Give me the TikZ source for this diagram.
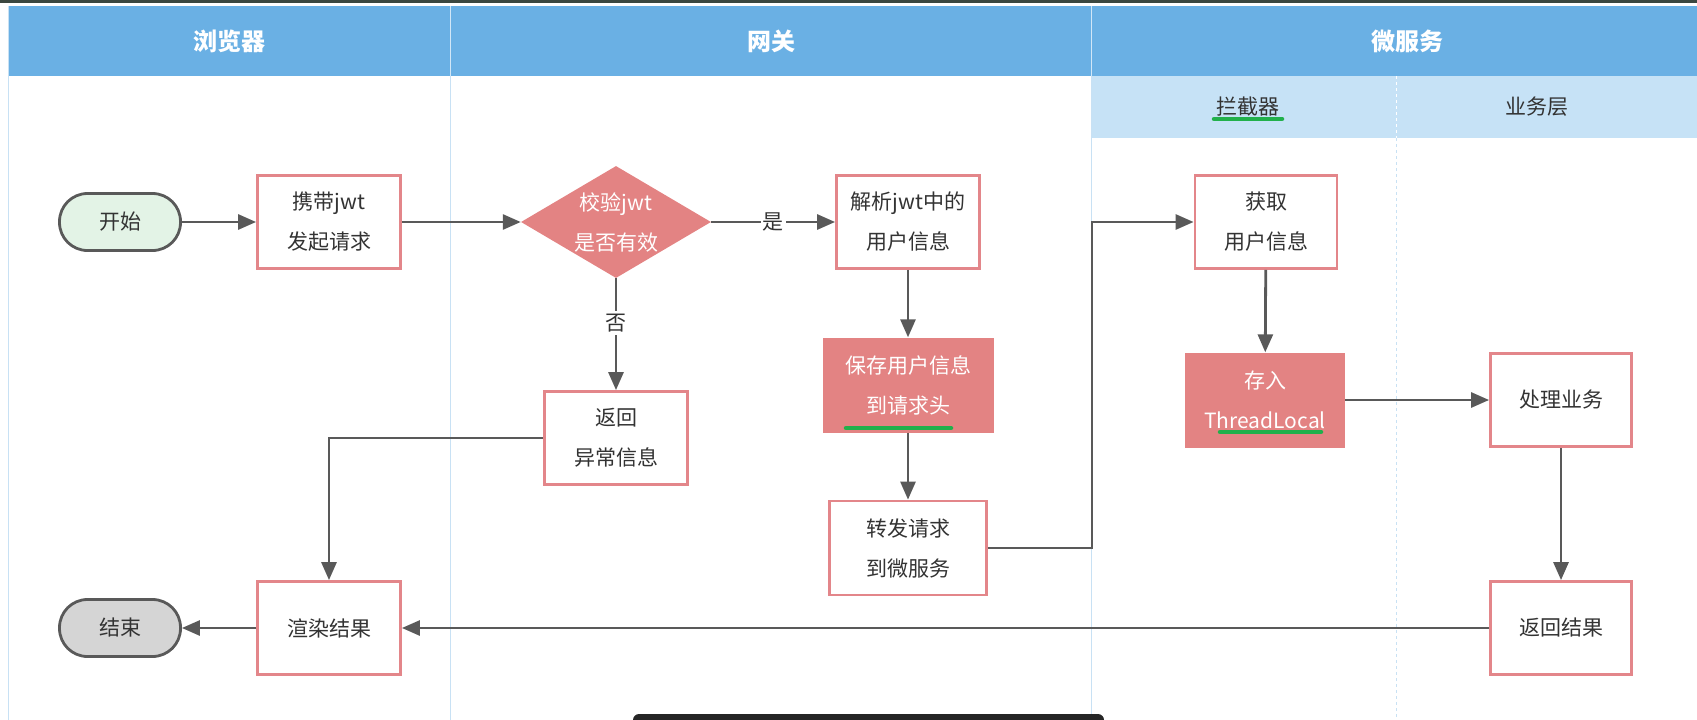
\documentclass[tikz,border=0pt]{standalone}
\usepackage{fontspec}
\setmainfont{Noto Sans CJK SC}
\usetikzlibrary{arrows.meta,shapes.geometric}
\definecolor{LaneBlue}{HTML}{6AB0E4}
\definecolor{SubBlue}{HTML}{C6E2F6}
\definecolor{LaneLine}{HTML}{C8E1F4}
\definecolor{BoxRed}{HTML}{E3868A}
\definecolor{FillRed}{HTML}{E38383}
\definecolor{StartGreen}{HTML}{E3F3E6}
\definecolor{EndGray}{HTML}{D5D5D5}
\definecolor{LineGray}{HTML}{595959}
\definecolor{MarkGreen}{HTML}{21B04B}
\definecolor{TextGray}{HTML}{333333}
\definecolor{EdgeDark}{HTML}{3B4740}

\begin{document}
\begin{tikzpicture}[x=1pt,y=-1pt,
  every node/.style={font=\fontsize{21}{40}\selectfont,text=TextGray,align=center,inner sep=0pt},
  box/.style={draw=BoxRed,line width=2.8pt,fill=white,minimum width=143pt,minimum height=93pt},
  redbox/.style={fill=FillRed,text=white,minimum width=160pt,minimum height=95pt},
  term/.style={draw=LineGray,line width=2.8pt,rounded corners=28pt,minimum width=121pt,minimum height=57pt},
  check/.style={diamond,aspect=1.7,fill=FillRed,text=white,minimum width=190pt,minimum height=112pt},
  flow/.style={draw=LineGray,line width=2.8pt,-{Triangle[length=18pt,width=15pt]}},
  lane/.style={font=\fontsize{24}{28}\selectfont\bfseries,text=white},
  sublane/.style={font=\fontsize{21}{28}\selectfont},
  greenline/.style={MarkGreen,line width=4.5pt,line cap=round}]
\useasboundingbox (0,0) rectangle (1697,720);
\clip (0,0) rectangle (1697,720);
% pool and lanes
\fill[EdgeDark] (0,0) rectangle (1697,2.5);
\fill[LaneBlue] (8,6) rectangle (1697,76);
\fill[SubBlue] (1091,76) rectangle (1697,138);
\draw[LaneLine,line width=1pt] (8,6) -- (8,720);
\draw[LaneLine,line width=1pt] (450,76) -- (450,720);
\draw[LaneLine,line width=1pt] (1091,76) -- (1091,720);
\draw[white!70!LaneBlue,line width=1pt] (450,6) -- (450,76) (1091,6) -- (1091,76);
\draw[LaneLine,line width=1pt,dashed] (1396,138) -- (1396,720);
\draw[white,line width=1pt,dashed] (1396,76) -- (1396,138);
\node[lane] (browser) at (229,41) {浏览器};
\node[lane] (gateway) at (771,41) {网关};
\node[lane] (service) at (1407,41) {微服务};
\node[sublane] (interceptor) at (1248,107) {拦截器};
\node[sublane] (business) at (1537,107) {业务层};
\draw[greenline] (1214,119) -- (1282,119);

% nodes
\node[term,fill=StartGreen] (start) at (120,222) {开始};
\node[box] (xd) at (329,222) {携带jwt\\发起请求};
\node[check] (jy) at (616,222) {校验jwt\\是否有效};
\node[box] (jx) at (908,222) {解析jwt中的\\用户信息};
\node[box] (fh) at (616,438) {返回\\异常信息};
\node[redbox,minimum width=171pt] (bc) at (908,385) {保存用户信息\\到请求头};
\node[box,minimum width=157pt,minimum height=94pt] (zf) at (908,548) {转发请求\\到微服务};
\node[box,minimum width=142pt] (hq) at (1266,222) {获取\\用户信息};
\node[redbox] (cr) at (1265,400) {存入\\ThreadLocal};
\node[box,minimum width=141pt] (cl) at (1561,400) {处理业务};
\node[box,minimum width=141pt] (fj) at (1561,628) {返回结果};
\node[box] (xr) at (329,628) {渲染结果};
\node[term,fill=EndGray] (end) at (120,628) {结束};
\draw[greenline] (846,428) -- (951,428);
\draw[greenline] (1220,432) -- (1321,432);

% connectors
\draw[flow] (start) -- (xd);
\draw[flow] (xd) -- (jy);
\draw[flow] (jy) -- node[fill=white,inner sep=2pt] {是} (jx);
\draw[flow] (jy) -- node[pos=0.4,fill=white,inner sep=3pt] {否} (fh);
\draw[flow] (jx) -- (bc);
\draw[flow] (bc) -- (zf);
\draw[flow] (zf.east) -- ++(104,0) |- (hq.west);
\draw[flow] (hq) -- (cr);
\draw[flow] (cr) -- (cl);
\draw[flow] (cl) -- (fj);
\draw[flow] (fj) -- (xr);
\draw[flow] (fh.west) -| (xr.north);
\draw[flow] (xr) -- (end);
\fill[black!85,rounded corners=6pt] (633,714) rectangle (1104,735);
\end{tikzpicture}
\end{document}
